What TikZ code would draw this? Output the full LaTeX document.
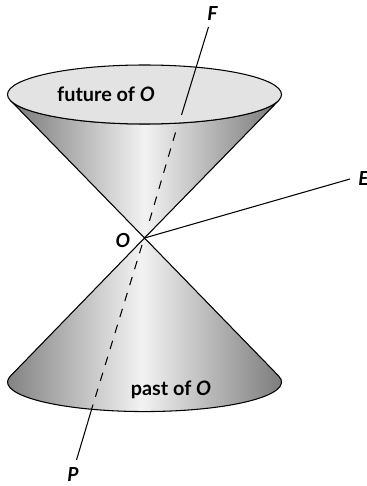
\documentclass[tikz,border=0pt]{standalone}
\usepackage{fontspec}
\setmainfont{Lato}
\usepackage{xcolor}
\definecolor{conerim}{gray}{0.47}
\definecolor{conemid}{gray}{0.95}
\definecolor{conetop}{gray}{0.89}
\tikzset{
    cone/.style={left color=conerim,right color=conerim,middle color=conemid},
    axisline/.style={line width=0.6pt},
    axisdash/.style={line width=0.6pt,dash pattern=on 4.9pt off 4.6pt},
    lbl/.style={inner sep=0pt,font=\bfseries\itshape\fontsize{11}{13}\selectfont},
    txt/.style={inner sep=0pt,font=\bfseries\fontsize{11.3}{13}\selectfont}
}

\begin{document}
\begin{tikzpicture}
    \useasboundingbox (0,0) rectangle (7.32,9.72);
    \coordinate (O) at (2.89,4.96);
    \fill [cone] (O)--(0.21,7.71) arc[start angle=191.86,end angle=348.14,x radius=2.74,y radius=0.59]--cycle;
    \draw [axisline] (O)--(0.21,7.71) arc[start angle=191.86,end angle=348.14,x radius=2.74,y radius=0.59]--cycle;
    \draw [axisline,fill=conetop] (2.89,7.83) ellipse [x radius=2.74,y radius=0.59];
    \fill [cone] (O)--(0.21,2.20) arc[start angle=168.14,end angle=371.86,x radius=2.74,y radius=0.59]--cycle;
    \draw [axisline] (O)--(0.21,2.20) arc[start angle=168.14,end angle=371.86,x radius=2.74,y radius=0.59]--cycle;
    \node[lbl] (F) at (4.25,9.44) {F};
    \node[lbl] (E) at (7.27,6.14) {E};
    \node[lbl] (P) at (1.46,0.22) {P};
    \node[lbl] (Olabel) at (2.46,4.90) {O};
    \node[txt] (future) at (2.12,7.84) {future of \textit{O}};
    \node[txt] (past) at (3.42,1.92) {past of \textit{O}};
    \coordinate (F1) at (4.17,9.18);
    \coordinate (F2) at (3.63,7.42);
    \coordinate (F3) at (3.51,7.07);
    \coordinate (F4) at (2.98,5.27);
    \coordinate (P1) at (1.84,1.56);
    \coordinate (P2) at (1.53,0.52);
    \coordinate (P3) at (2.84,4.82);
    \coordinate (E1) at (7.00,6.14);
    \draw [axisline] (F1)--(F2);
    \draw [axisdash] (F3)--(F4);
    \draw [axisdash] (P3)--(P1);
    \draw [axisline] (P1)--(P2);
    \draw [axisline] (O)--(E1);
\end{tikzpicture}
\end{document}
